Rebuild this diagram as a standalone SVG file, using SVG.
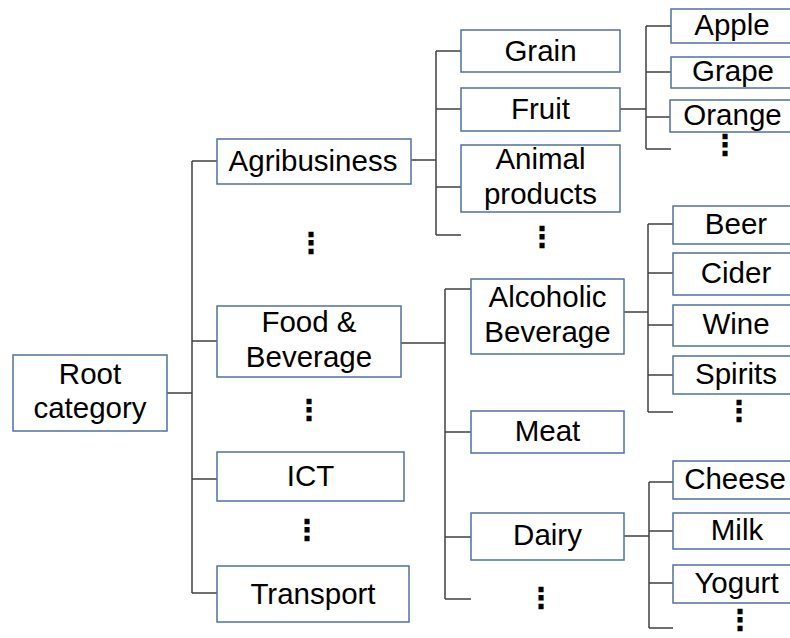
<svg xmlns="http://www.w3.org/2000/svg" width="790" height="638" viewBox="0 0 790 638">
  <style>
    .box { fill: #ffffff; stroke: #50729f; stroke-width: 1.5; }
    .lbl { font-family: "Liberation Sans", Arial, sans-serif; font-size: 29.5px; fill: #000000; text-anchor: middle; }
    .more { font-family: "DejaVu Sans", sans-serif; font-weight: bold; font-size: 29px; fill: #000000; text-anchor: middle; }
    .conn { fill: none; stroke: #404040; stroke-width: 1.5; }
  </style>
  <rect width="790" height="638" fill="#ffffff"/>

  <!-- tree connectors -->
  <g id="connectors" class="conn">
    <!-- root to sectors -->
    <path d="M167 393 H192 M192 161 V593 M192 161 H217 M192 341 H217 M192 479 H217 M192 593 H217"/>
    <!-- Agribusiness children -->
    <path d="M411 160 H436 M436 51 V235 M436 51 H461 M436 109 H461 M436 187 H461 M436 235 H461"/>
    <!-- Fruit children -->
    <path d="M620 109 H646 M646 26 V149 M646 26 H671 M646 72 H671 M646 117 H671 M646 149 H671"/>
    <!-- Food & Beverage children -->
    <path d="M401 343 H445 M445 289 V599 M445 289 H471 M445 432 H471 M445 537 H471 M445 599 H471"/>
    <!-- Alcoholic Beverage children -->
    <path d="M624 312 H648 M648 224 V412 M648 224 H673 M648 273 H673 M648 325 H673 M648 375 H673 M648 412 H673"/>
    <!-- Dairy children -->
    <path d="M624 536 H649 M649 482 V628 M649 482 H673 M649 531 H673 M649 583 H673 M649 628 H673"/>
  </g>

  <!-- root -->
  <g id="root">
    <rect class="box" x="13" y="355" width="154" height="76"/>
    <text class="lbl" x="90" y="384">Root</text>
    <text class="lbl" x="90" y="418">category</text>
  </g>

  <!-- sectors -->
  <g id="agribusiness">
    <rect class="box" x="217" y="139" width="194" height="45"/>
    <text class="lbl" x="313" y="171">Agribusiness</text>
  </g>
  <g id="food-beverage">
    <rect class="box" x="217" y="306" width="184" height="71"/>
    <text class="lbl" x="309" y="332">Food &amp;</text>
    <text class="lbl" x="309" y="367">Beverage</text>
  </g>
  <g id="ict">
    <rect class="box" x="217" y="452" width="187" height="49"/>
    <text class="lbl" x="310.5" y="486">ICT</text>
  </g>
  <g id="transport">
    <rect class="box" x="217" y="566" width="192" height="56"/>
    <text class="lbl" x="313" y="604">Transport</text>
  </g>
  <g id="sector-more">
    <text class="more" x="311" y="253">⋮</text>
    <text class="more" x="309" y="420">⋮</text>
    <text class="more" x="307" y="540">⋮</text>
  </g>

  <!-- agribusiness products -->
  <g id="grain">
    <rect class="box" x="461" y="30" width="159" height="42"/>
    <text class="lbl" x="540.5" y="61">Grain</text>
  </g>
  <g id="fruit">
    <rect class="box" x="461" y="88" width="159" height="43"/>
    <text class="lbl" x="540.5" y="119">Fruit</text>
  </g>
  <g id="animal-products">
    <rect class="box" x="461" y="145" width="159" height="67"/>
    <text class="lbl" x="540.5" y="169">Animal</text>
    <text class="lbl" x="540.5" y="204">products</text>
  </g>
  <g id="agri-more">
    <text class="more" x="542" y="247">⋮</text>
  </g>

  <!-- fruit kinds -->
  <g id="apple">
    <rect class="box" x="671" y="9" width="124" height="34"/>
    <text class="lbl" x="732" y="35">Apple</text>
  </g>
  <g id="grape">
    <rect class="box" x="671" y="57" width="124" height="31"/>
    <text class="lbl" x="733" y="81">Grape</text>
  </g>
  <g id="orange">
    <rect class="box" x="670" y="100" width="124" height="32"/>
    <text class="lbl" x="732.5" y="125">Orange</text>
  </g>
  <g id="fruit-more">
    <text class="more" x="725" y="155">⋮</text>
  </g>

  <!-- food & beverage products -->
  <g id="alcoholic-beverage">
    <rect class="box" x="471" y="279" width="153" height="75"/>
    <text class="lbl" x="547.5" y="307">Alcoholic</text>
    <text class="lbl" x="547.5" y="342">Beverage</text>
  </g>
  <g id="meat">
    <rect class="box" x="471" y="411" width="153" height="42"/>
    <text class="lbl" x="547.5" y="441">Meat</text>
  </g>
  <g id="dairy">
    <rect class="box" x="471" y="513" width="153" height="47"/>
    <text class="lbl" x="547.5" y="545">Dairy</text>
  </g>
  <g id="food-more">
    <text class="more" x="541" y="608">⋮</text>
  </g>

  <!-- alcoholic beverage kinds -->
  <g id="beer">
    <rect class="box" x="673" y="206" width="124" height="38"/>
    <text class="lbl" x="736" y="234">Beer</text>
  </g>
  <g id="cider">
    <rect class="box" x="673" y="253" width="124" height="42"/>
    <text class="lbl" x="736" y="283">Cider</text>
  </g>
  <g id="wine">
    <rect class="box" x="673" y="305" width="124" height="41"/>
    <text class="lbl" x="736" y="334">Wine</text>
  </g>
  <g id="spirits">
    <rect class="box" x="673" y="356" width="124" height="38"/>
    <text class="lbl" x="736" y="384">Spirits</text>
  </g>
  <g id="alcohol-more">
    <text class="more" x="739" y="421">⋮</text>
  </g>

  <!-- dairy kinds -->
  <g id="cheese">
    <rect class="box" x="673" y="461" width="124" height="38"/>
    <text class="lbl" x="735" y="489">Cheese</text>
  </g>
  <g id="milk">
    <rect class="box" x="673" y="513" width="124" height="36"/>
    <text class="lbl" x="737" y="540">Milk</text>
  </g>
  <g id="yogurt">
    <rect class="box" x="673" y="565" width="124" height="38"/>
    <text class="lbl" x="736.5" y="593">Yogurt</text>
  </g>
  <g id="dairy-more">
    <text class="more" x="740" y="630">⋮</text>
  </g>
</svg>
